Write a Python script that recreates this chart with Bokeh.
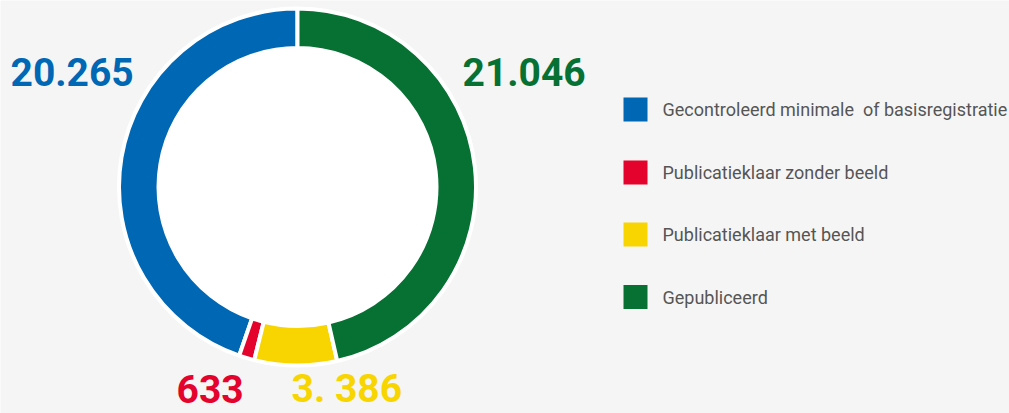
import numpy as np
from bokeh.plotting import figure
from bokeh.models import Range1d, ColumnDataSource
from bokeh.core.properties import value
from bokeh.embed import file_html
from bokeh.resources import INLINE

# ---- data ----
categories = ["Gecontroleerd minimale \u00a0of basisregistratie",
              "Publicatieklaar zonder beeld",
              "Publicatieklaar met beeld",
              "Gepubliceerd"]
counts = [20265, 633, 3386, 21046]
labels = ["20.265", "633", "3. 386", "21.046"]
colors = ["#0067b4", "#e4032c", "#f8d500", "#077033"]

# ---- layout (pixel-like data units) ----
W, H = 1009, 413
BG = "#f5f5f5"
p = figure(width=W, height=H, output_backend="svg", toolbar_location=None,
           x_range=Range1d(0, W), y_range=Range1d(0, H),
           x_axis_location=None, y_axis_location=None, min_border=0)
p.background_fill_color = BG
p.border_fill_color = BG
p.outline_line_color = None
p.grid.visible = False

def Y(ypix):
    return H - ypix

cx, cy = 297, Y(186.5)

vals = np.array(counts, dtype=float)
frac = vals / vals.sum() * 2 * np.pi
starts = np.pi / 2 + np.concatenate([[0], np.cumsum(frac)[:-1]])
ends = starts + frac

src = ColumnDataSource(dict(start=starts, end=ends, color=colors))

# white halo + inner fill
p.circle(x=[cx], y=[cy], radius=180, fill_color="white", line_color=None)
p.annular_wedge(x=cx, y=cy, inner_radius=139, outer_radius=178.5,
                start_angle="start", end_angle="end", direction="anticlock",
                fill_color="color", line_color="white", line_width=4, source=src)

# value labels
lab_x = [10, 176, 291, 462]
lab_y = [Y(71), Y(388.5), Y(388.5), Y(71)]
p.text(x=lab_x, y=lab_y, text=labels, text_color=colors,
       text_font=value("Roboto"), text_font_style="bold", text_font_size="39px",
       text_align="left", text_baseline="middle")

# legend
leg_y = [Y(109), Y(172), Y(234), Y(296.5)]
p.rect(x=[635] * 4, y=leg_y, width=24, height=24, fill_color=colors, line_color=None)
p.text(x=[662] * 4, y=leg_y, text=categories, text_color="#555555",
       text_font=value("Roboto"), text_font_size="18px",
       text_align="left", text_baseline="middle")

open("out.html", "w").write(file_html(p, INLINE))
